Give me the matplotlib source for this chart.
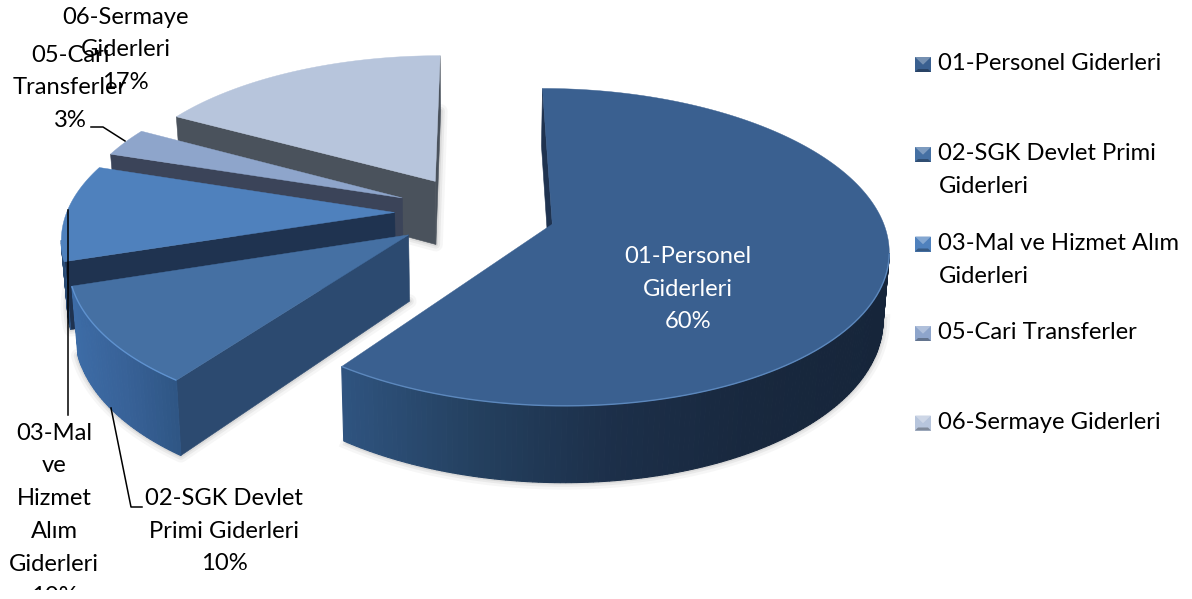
import numpy as np
import matplotlib
matplotlib.use("Agg")
import matplotlib.pyplot as plt
from matplotlib.patches import Polygon, Rectangle
from matplotlib.colors import to_rgb

categories = ["01-Personel Giderleri", "02-SGK Devlet Primi Giderleri",
              "03-Mal ve Hizmet Alım Giderleri", "05-Cari Transferler",
              "06-Sermaye Giderleri"]
values = [60, 10, 10, 3, 17]
legend_lines = ["01-Personel Giderleri", "02-SGK Devlet Primi\nGiderleri",
                "03-Mal ve Hizmet Alım\nGiderleri", "05-Cari Transferler",
                "06-Sermaye Giderleri"]
data_labels = ["01-Personel\nGiderleri\n60%", "02-SGK Devlet\nPrimi Giderleri\n10%",
               "03-Mal\nve\nHizmet\nAlım\nGiderleri\n10%", "05-Cari\nTransferler\n3%",
               "06-Sermaye\nGiderleri\n17%"]

top_colors = ["#3a6090", "#4570a3", "#4f81bd", "#8ea5cb", "#b7c5dc"]
side_colors = ["#1f3350", "#2c4a70", "#1f3350", "#3b4459", "#4a525c"]
wall_stops = [["#2f5480", "#24405f", "#1c2f49", "#18283e", "#16253a"],
              ["#3d6ca6", "#386298", "#2f5685"],
              ["#2a4a72", "#2f5482"],
              ["#3b4459", "#3b4459"],
              ["#4a525c", "#4a525c"]]
edge_light = ["#5c88bd", "#5f92cf", "#4f81bd", "#8ea5cb", "#b7c5dc"]

XC, YC, R, RY, K, EXPL, H, LEAN = 475, 212.5, 328, 152, 0.1434, 0.245, 65, 0.985


def project(X, Y, down=False):
    X, Y = np.asarray(X, float), np.asarray(Y, float)
    s = 1 / (1 - K * Y)
    x = XC + R * X * s
    y = YC + RY * Y * s
    if down:
        x = XC + (x - XC) * LEAN
        y = y + H * s
    return x, y


def mix(stops, t):
    pts = np.array([to_rgb(c) for c in stops])
    pos = np.linspace(0, 1, len(stops))
    return tuple(np.interp(t, pos, pts[:, i]) for i in range(3))


fig = plt.figure(figsize=(11.92, 5.99), dpi=100)
ax = fig.add_axes([0, 0, 1, 1])
ax.set_xlim(0, 1192)
ax.set_ylim(599, 0)
ax.axis("off")
FONT = "Lato"
FS = 17.1
LS = 1.69

total = sum(values)
edges = np.cumsum([0] + values) / total * 2 * np.pi

for i in [4, 3, 2, 1, 0]:
    a0, a1 = edges[i], edges[i + 1]
    mid = (a0 + a1) / 2
    ox, oy = EXPL * np.sin(mid), -EXPL * np.cos(mid)
    ang = np.linspace(a0, a1, max(int((a1 - a0) * 70), 8))
    X = np.r_[ox, ox + np.sin(ang)]
    Y = np.r_[oy, oy - np.cos(ang)]
    tx, ty = project(X, Y)
    bx, by = project(X, Y, down=True)
    n = len(tx)
    front = [j for j in range(1, n - 1) if tx[j + 1] < tx[j]]

    # soft shadow round the foot of the slice
    for lw, al in [(10, 0.05), (6, 0.08), (3, 0.10)]:
        if i == 0:
            ax.plot(bx[front], by[front], color="#555555", lw=lw, alpha=al, zorder=i * -10 + 1)
        else:
            ax.add_patch(Polygon(np.c_[bx, by], closed=True, fc="none", ec="#555555",
                                 lw=lw, alpha=al, joinstyle="round", zorder=i * -10 + 1))
    z = i * -10 + 2
    # straight cut faces that look towards the viewer
    for a, b in [(0, 1), (n - 1, 0)]:
        if tx[b] < tx[a]:
            ax.add_patch(Polygon([(tx[a], ty[a]), (tx[b], ty[b]), (bx[b], by[b]), (bx[a], by[a])],
                                 closed=True, fc=side_colors[i], ec=side_colors[i], lw=0.4, zorder=z))
    # curved outer wall, shaded from its left end to its right end
    if front:
        left, right = tx[front[-1] + 1], tx[front[0]]
        for j in front:
            col = mix(wall_stops[i], (tx[j] - left) / max(right - left, 1))
            ax.add_patch(Polygon([(tx[j], ty[j]), (tx[j + 1], ty[j + 1]), (bx[j + 1], by[j + 1]), (bx[j], by[j])],
                                 closed=True, fc=col, ec=col, lw=0.8, zorder=z))
    # top surface
    ax.add_patch(Polygon(np.c_[tx, ty], closed=True, fc=top_colors[i], ec=top_colors[i],
                         lw=0.3, zorder=z + 1))
    if front:
        f = front + [front[-1] + 1]
        ax.plot(tx[f], ty[f], color=edge_light[i], lw=1.0, zorder=z + 2, solid_capstyle="butt")

TXT = dict(family=FONT, fontsize=FS, ha="center", va="center", linespacing=LS, color="#000000", zorder=20)

# leader lines
ax.plot([68, 68], [210, 415], color="black", lw=1.1, zorder=15)
ax.plot([111, 131, 142], [408, 507, 507], color="black", lw=1.1, zorder=15)
ax.plot([91, 103, 125], [127, 127, 141], color="black", lw=1.1, zorder=15)

# data labels
ax.text(688, 289, data_labels[0], **{**TXT, "color": "white"})
ax.text(224, 531, data_labels[1], **TXT)
t = ax.text(54, 515, data_labels[2], **TXT)
t.set_clip_path(Rectangle((0, 0), 1192, 590, transform=ax.transData))
t.set_clip_on(True)
ax.text(70, 88, data_labels[3], **TXT)
ax.text(125.5, 50, data_labels[4], **TXT)

# legend
legend_y = [64.5, 154.5, 244, 333.5, 423]
text_y = [63.5, 170, 260, 332.5, 422.5]
for c, ly, ty_, lab in zip(top_colors, legend_y, text_y, legend_lines):
    l, r, u, d = 915, 931, ly - 7.5, ly + 7.5
    ins = 3
    base = np.array(to_rgb(c))
    ax.add_patch(Rectangle((l, u), r - l, d - u, fc=c, ec="none", zorder=21))
    ax.add_patch(Polygon([(l, u), (r, u), (r - ins * 2.6, ly), (l + ins * 2.6, ly)], closed=True,
                         fc=tuple(base * 0.7 + 0.3), ec="none", zorder=22))
    ax.add_patch(Polygon([(l, d), (r, d), (r - ins, d - ins), (l + ins, d - ins)], closed=True,
                         fc=tuple(base * 0.7), ec="none", zorder=22))
    ax.text(938.5, ty_, lab, family=FONT, fontsize=FS, ha="left", va="center",
            linespacing=LS, color="black", zorder=22)

fig.savefig("out.png", dpi=100, facecolor="white")
